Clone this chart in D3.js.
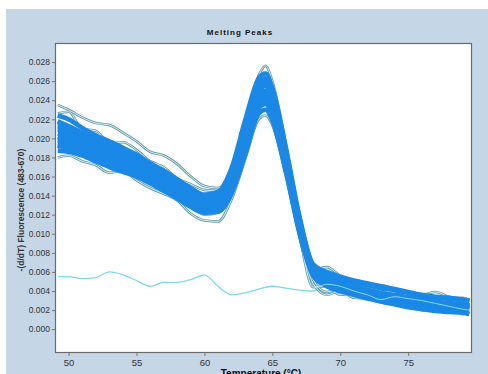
<!DOCTYPE html>
<html>
<head>
<meta charset="utf-8">
<script src="https://cdn.jsdelivr.net/npm/d3@7"></script>
<style>
  html, body { margin: 0; padding: 0; background: #fff; }
  svg { display: block; font-family: "Liberation Sans", Arial, sans-serif; }
</style>
</head>
<body>
<div id="chart"></div>
<script>
// temperatures (°C) at which the sample curves were read
const temps = [49.2, 50, 51, 52, 53, 54, 55, 56, 57, 58, 59, 60, 61, 62, 63, 64, 64.5, 65, 66, 67, 68, 69, 70, 71, 72, 73, 74, 75, 76, 77, 78, 79, 79.5];

// sample curves, -(d/dT) fluorescence
const coreCurves = [
  [0.0205, 0.0202, 0.0196, 0.0190, 0.0184, 0.0178, 0.0172, 0.0164, 0.0156, 0.0148, 0.0139, 0.0132, 0.0134, 0.0156, 0.0202, 0.0246, 0.0250, 0.0236, 0.0176, 0.0108, 0.0062, 0.0052, 0.0047, 0.0043, 0.0039, 0.0036, 0.0034, 0.0031, 0.0029, 0.0027, 0.0026, 0.0025, 0.0024],
  [0.0212, 0.0209, 0.0201, 0.0196, 0.0190, 0.0182, 0.0176, 0.0169, 0.0160, 0.0152, 0.0143, 0.0136, 0.0139, 0.0162, 0.0210, 0.0254, 0.0259, 0.0244, 0.0182, 0.0112, 0.0064, 0.0054, 0.0049, 0.0044, 0.0041, 0.0038, 0.0035, 0.0033, 0.0030, 0.0028, 0.0027, 0.0026, 0.0025],
  [0.0198, 0.0195, 0.0190, 0.0183, 0.0179, 0.0172, 0.0166, 0.0159, 0.0151, 0.0143, 0.0135, 0.0128, 0.0130, 0.0151, 0.0195, 0.0238, 0.0242, 0.0229, 0.0171, 0.0105, 0.0060, 0.0050, 0.0045, 0.0041, 0.0037, 0.0034, 0.0032, 0.0029, 0.0027, 0.0025, 0.0024, 0.0023, 0.0022],
  [0.0218, 0.0213, 0.0206, 0.0198, 0.0194, 0.0189, 0.0180, 0.0171, 0.0163, 0.0154, 0.0145, 0.0138, 0.0141, 0.0166, 0.0214, 0.0258, 0.0263, 0.0249, 0.0187, 0.0116, 0.0066, 0.0057, 0.0053, 0.0049, 0.0046, 0.0043, 0.0041, 0.0038, 0.0035, 0.0033, 0.0032, 0.0031, 0.0030],
  [0.0192, 0.0190, 0.0186, 0.0180, 0.0173, 0.0169, 0.0163, 0.0156, 0.0148, 0.0140, 0.0131, 0.0125, 0.0126, 0.0146, 0.0188, 0.0232, 0.0236, 0.0224, 0.0168, 0.0103, 0.0057, 0.0046, 0.0041, 0.0037, 0.0033, 0.0030, 0.0028, 0.0025, 0.0023, 0.0021, 0.0020, 0.0019, 0.0018],
  [0.0209, 0.0206, 0.0199, 0.0194, 0.0186, 0.0181, 0.0175, 0.0166, 0.0159, 0.0150, 0.0141, 0.0134, 0.0136, 0.0159, 0.0206, 0.0250, 0.0255, 0.0240, 0.0179, 0.0110, 0.0063, 0.0053, 0.0048, 0.0044, 0.0040, 0.0037, 0.0035, 0.0032, 0.0030, 0.0028, 0.0026, 0.0025, 0.0024],
  [0.0201, 0.0198, 0.0192, 0.0187, 0.0181, 0.0175, 0.0169, 0.0161, 0.0153, 0.0146, 0.0137, 0.0130, 0.0132, 0.0153, 0.0198, 0.0242, 0.0246, 0.0232, 0.0173, 0.0107, 0.0061, 0.0051, 0.0046, 0.0042, 0.0038, 0.0035, 0.0033, 0.0030, 0.0028, 0.0026, 0.0025, 0.0024, 0.0023],
  [0.0224, 0.0220, 0.0211, 0.0203, 0.0197, 0.0190, 0.0183, 0.0174, 0.0166, 0.0157, 0.0148, 0.0141, 0.0144, 0.0169, 0.0219, 0.0263, 0.0268, 0.0253, 0.0190, 0.0118, 0.0068, 0.0060, 0.0055, 0.0051, 0.0048, 0.0045, 0.0042, 0.0039, 0.0036, 0.0034, 0.0033, 0.0031, 0.0030],
  [0.0187, 0.0186, 0.0182, 0.0176, 0.0170, 0.0165, 0.0160, 0.0153, 0.0145, 0.0137, 0.0128, 0.0122, 0.0123, 0.0142, 0.0183, 0.0226, 0.0230, 0.0219, 0.0165, 0.0101, 0.0056, 0.0045, 0.0040, 0.0036, 0.0032, 0.0029, 0.0026, 0.0023, 0.0021, 0.0019, 0.0018, 0.0017, 0.0016],
  [0.0214, 0.0212, 0.0204, 0.0200, 0.0192, 0.0186, 0.0178, 0.0172, 0.0162, 0.0155, 0.0146, 0.0137, 0.0137, 0.0160, 0.0207, 0.0250, 0.0257, 0.0242, 0.0184, 0.0114, 0.0065, 0.0053, 0.0049, 0.0045, 0.0041, 0.0037, 0.0036, 0.0033, 0.0031, 0.0029, 0.0027, 0.0026, 0.0025],
  [0.0195, 0.0193, 0.0188, 0.0185, 0.0176, 0.0173, 0.0166, 0.0161, 0.0150, 0.0144, 0.0134, 0.0127, 0.0128, 0.0148, 0.0192, 0.0236, 0.0240, 0.0227, 0.0170, 0.0104, 0.0059, 0.0050, 0.0045, 0.0041, 0.0037, 0.0034, 0.0031, 0.0029, 0.0026, 0.0024, 0.0023, 0.0022, 0.0021]
];

// outlying samples (the thin darker traces at the band's edges)
const edgeCurves = [
  [0.0235, 0.0230, 0.0222, 0.0216, 0.0214, 0.0206, 0.0197, 0.0186, 0.0182, 0.0173, 0.0160, 0.0150, 0.0148, 0.0168, 0.0216, 0.0266, 0.0276, 0.0260, 0.0194, 0.0120, 0.0068, 0.0060, 0.0054, 0.0050, 0.0046, 0.0046, 0.0042, 0.0038, 0.0036, 0.0039, 0.0034, 0.0031, 0.0028],
  [0.0180, 0.0182, 0.0176, 0.0172, 0.0164, 0.0166, 0.0156, 0.0148, 0.0142, 0.0135, 0.0121, 0.0114, 0.0113, 0.0136, 0.0178, 0.0220, 0.0224, 0.0214, 0.0160, 0.0096, 0.0048, 0.0036, 0.0040, 0.0033, 0.0032, 0.0028, 0.0026, 0.0024, 0.0020, 0.0022, 0.0019, 0.0018, 0.0017],
  [0.0226, 0.0228, 0.0210, 0.0208, 0.0195, 0.0196, 0.0188, 0.0176, 0.0170, 0.0158, 0.0152, 0.0146, 0.0145, 0.0162, 0.0208, 0.0252, 0.0258, 0.0248, 0.0186, 0.0114, 0.0062, 0.0065, 0.0056, 0.0049, 0.0044, 0.0042, 0.0040, 0.0036, 0.0035, 0.0033, 0.0032, 0.0033, 0.0030],
  [0.0190, 0.0196, 0.0184, 0.0188, 0.0176, 0.0178, 0.0162, 0.0164, 0.0144, 0.0146, 0.0130, 0.0120, 0.0122, 0.0140, 0.0192, 0.0234, 0.0239, 0.0226, 0.0170, 0.0098, 0.0044, 0.0045, 0.0036, 0.0038, 0.0032, 0.0030, 0.0032, 0.0026, 0.0024, 0.0025, 0.0022, 0.0020, 0.0016],
  [0.0216, 0.0210, 0.0204, 0.0206, 0.0188, 0.0184, 0.0178, 0.0176, 0.0168, 0.0156, 0.0144, 0.0135, 0.0138, 0.0156, 0.0204, 0.0256, 0.0264, 0.0246, 0.0180, 0.0110, 0.0054, 0.0052, 0.0046, 0.0048, 0.0045, 0.0040, 0.0036, 0.0034, 0.0033, 0.0030, 0.0030, 0.0027, 0.0026],
  [0.0200, 0.0204, 0.0198, 0.0190, 0.0188, 0.0174, 0.0174, 0.0160, 0.0158, 0.0142, 0.0140, 0.0126, 0.0130, 0.0150, 0.0196, 0.0242, 0.0248, 0.0234, 0.0174, 0.0104, 0.0052, 0.0039, 0.0042, 0.0040, 0.0036, 0.0035, 0.0031, 0.0032, 0.0028, 0.0026, 0.0023, 0.0024, 0.0022]
];

// negative control
const controlTemps = [49.2, 50, 51, 52, 53, 54, 55, 56, 57, 58, 59, 60, 61, 62, 63, 64, 65, 66, 67, 68, 69, 70, 71, 72, 73, 74, 75, 76, 77, 78, 79, 79.5];
const controlValues = [0.0055, 0.0055, 0.0053, 0.0054, 0.0060, 0.0057, 0.0051, 0.0045, 0.0049, 0.0049, 0.0052, 0.0057, 0.0045, 0.0036, 0.0038, 0.0042, 0.0045, 0.0043, 0.0041, 0.0040, 0.0047, 0.0045, 0.0040, 0.0036, 0.0031, 0.0034, 0.0032, 0.0030, 0.0027, 0.0024, 0.0021, 0.0020];

const xTicks = [50, 55, 60, 65, 70, 75];
const yTicks = [0.000, 0.002, 0.004, 0.006, 0.008, 0.010, 0.012, 0.014, 0.016, 0.018, 0.020, 0.022, 0.024, 0.026, 0.028];

const W = 488, H = 374;
const plot = { left: 55, top: 43, right: 472, bottom: 353 };

const svg = d3.select('#chart')
  .append('svg')
  .attr('width', W)
  .attr('height', H);

// light blue panel
svg.append('rect')
  .attr('x', 6).attr('y', 9)
  .attr('width', W - 6).attr('height', H - 9)
  .style('fill', '#c5d6e6');

svg.append('rect')
  .attr('x', plot.left).attr('y', plot.top)
  .attr('width', plot.right - plot.left).attr('height', plot.bottom - plot.top)
  .style('fill', '#fff');

const x = d3.scaleLinear().domain([49, 79.7]).range([plot.left, plot.right]);
const y = d3.scaleLinear().domain([-0.0025, 0.030]).range([plot.bottom, plot.top]);

svg.append('clipPath').attr('id', 'clip')
  .append('rect')
  .attr('x', plot.left).attr('y', plot.top)
  .attr('width', plot.right - plot.left).attr('height', plot.bottom - plot.top);

const line = d3.line()
  .x((d) => x(d[0]))
  .y((d) => y(d[1]))
  .curve(d3.curveMonotoneX);

const samplePath = (c) => line(temps.map((t, i) => [t, c[i]]));

const marks = svg.append('g').attr('clip-path', 'url(#clip)');

// control trace sits under the sample band
marks.append('path')
  .attr('d', line(controlTemps.map((t, i) => [t, controlValues[i]])))
  .style('fill', 'none')
  .style('stroke', '#7fdbe2')
  .style('stroke-width', 1.3);

marks.selectAll('.edge')
  .data(edgeCurves)
  .join('path')
  .attr('class', 'edge')
  .attr('d', samplePath)
  .style('fill', 'none')
  .style('stroke', '#5f9cab')
  .style('stroke-width', 2.6);

marks.selectAll('.edgeFill')
  .data(edgeCurves)
  .join('path')
  .attr('class', 'edgeFill')
  .attr('d', samplePath)
  .style('fill', 'none')
  .style('stroke', '#ffffff')
  .style('stroke-width', 0.8);

marks.selectAll('.core')
  .data(coreCurves)
  .join('path')
  .attr('class', 'core')
  .attr('d', samplePath)
  .style('fill', 'none')
  .style('stroke', '#1a88e6')
  .style('stroke-width', 4.6);

// control shows through the band on the right
marks.append('path')
  .attr('d', line(controlTemps.map((t, i) => [t, controlValues[i]]).filter((p) => p[0] >= 68)))
  .style('fill', 'none')
  .style('stroke', '#86dbe6')
  .style('stroke-width', 1);

// frame
svg.append('rect')
  .attr('x', plot.left + 0.5).attr('y', plot.top + 0.5)
  .attr('width', plot.right - plot.left - 1).attr('height', plot.bottom - plot.top - 1)
  .style('fill', 'none')
  .style('stroke', '#6b6b6b')
  .style('stroke-width', 1.2);

const yAxis = svg.append('g')
  .attr('transform', `translate(${plot.left},0)`)
  .call(d3.axisLeft(y).tickValues(yTicks).tickSize(3).tickPadding(2).tickFormat(d3.format('.3f')));

const xAxis = svg.append('g')
  .attr('transform', `translate(0,${plot.bottom})`)
  .call(d3.axisBottom(x).tickValues(xTicks).tickSize(3).tickPadding(3));

[yAxis, xAxis].forEach((g) => {
  g.select('.domain').remove();
  g.selectAll('line').style('stroke', '#777');
  g.selectAll('text')
    .style('fill', '#333')
    .style('font-family', '"Liberation Sans", Arial, sans-serif')
    .style('font-size', '8.5px');
});
xAxis.selectAll('text').style('font-size', '9.5px');

svg.append('text')
  .attr('x', 240).attr('y', 35)
  .attr('text-anchor', 'middle')
  .style('font-size', '8px')
  .style('font-weight', 'bold')
  .style('letter-spacing', '1px')
  .style('fill', '#111')
  .text('Melting Peaks');

svg.append('text')
  .attr('transform', 'translate(24,210) rotate(-90)')
  .attr('text-anchor', 'middle')
  .style('font-size', '8.5px')
  .style('font-weight', 'bold')
  .style('fill', '#333')
  .text('-(d/dT) Fluorescence (483-670)');

svg.append('text')
  .attr('x', 261).attr('y', 377)
  .attr('text-anchor', 'middle')
  .style('font-size', '10px')
  .style('font-weight', 'bold')
  .style('fill', '#111')
  .text('Temperature (°C)');
</script>
</body>
</html>
